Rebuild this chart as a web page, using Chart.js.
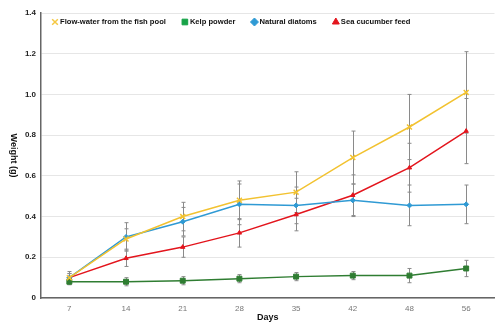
<!DOCTYPE html>
<html>
<head>
<meta charset="utf-8">
<script src="https://cdn.jsdelivr.net/npm/chart.js@4/dist/chart.umd.min.js"></script>
<style>
  html, body { margin: 0; padding: 0; background: #fff; }
  #wrap { width: 500px; height: 328px; }
</style>
</head>
<body>
<div id="wrap"><canvas id="weightChart" width="500" height="328"></canvas></div>
<script>
// ===== Weight growth by feed type =====

const days = ['7', '14', '21', '28', '35', '42', '48', '56'];

const flowWater = [0.10, 0.29, 0.40, 0.48, 0.52, 0.69, 0.84, 1.01];
const kelp      = [0.08, 0.08, 0.085, 0.095, 0.105, 0.11, 0.11, 0.145];
const diatoms   = [0.10, 0.30, 0.375, 0.46, 0.455, 0.48, 0.455, 0.46];
const feed      = [0.10, 0.195, 0.25, 0.32, 0.41, 0.505, 0.64, 0.82];

// standard deviations (half length of each error bar)
const flowWaterSd = [0.02, 0.05, 0.07, 0.095, 0.10, 0.13, 0.16, 0.20];
const kelpSd      = [0.015, 0.02, 0.02, 0.02, 0.02, 0.02, 0.035, 0.04];
const diatomsSd   = [0.03, 0.07, 0.07, 0.10, 0.09, 0.08, 0.10, 0.095];
const feedSd      = [0.02, 0.04, 0.05, 0.07, 0.08, 0.10, 0.12, 0.16];

const FONT = '"Liberation Sans", Arial, sans-serif';

const series = [
  { label: 'Flow-water from the fish pool', data: flowWater, sd: flowWaterSd,
    color: '#f2c230', style: 'crossRot', radius: 3.5, legendColor: '#f5c842' },
  { label: 'Kelp powder', data: kelp, sd: kelpSd,
    color: '#2f7d32', style: 'rect', radius: 3.5, legendColor: '#17a348' },
  { label: 'Natural diatoms', data: diatoms, sd: diatomsSd,
    color: '#2f9ad4', style: 'rectRot', radius: 2.5, legendColor: '#2f9ad4' },
  { label: 'Sea cucumber feed', data: feed, sd: feedSd,
    color: '#e3151d', style: 'triangle', radius: 2.5, legendColor: '#e3151d' }
];

// grey error bars drawn under the lines
const errorBars = {
  id: 'errorBars',
  beforeDatasetsDraw(chart) {
    const { ctx, scales: { y } } = chart;
    ctx.save();
    ctx.strokeStyle = '#8a8a8a';
    ctx.lineWidth = 1;
    series.forEach((s, i) => {
      const meta = chart.getDatasetMeta(i);
      meta.data.forEach((pt, j) => {
        const top = y.getPixelForValue(s.data[j] + s.sd[j]);
        const bot = y.getPixelForValue(s.data[j] - s.sd[j]);
        const x = Math.round(pt.x) + 0.5;
        ctx.beginPath();
        ctx.moveTo(x, top); ctx.lineTo(x, bot);
        ctx.moveTo(x - 2, top); ctx.lineTo(x + 2, top);
        ctx.moveTo(x - 2, bot); ctx.lineTo(x + 2, bot);
        ctx.stroke();
      });
    });
    ctx.restore();
  }
};

// legend row inside the plot, and axis titles
const extras = {
  id: 'extras',
  afterDraw(chart) {
    const { ctx, chartArea } = chart;
    ctx.save();
    ctx.font = 'bold 7.6px ' + FONT;
    ctx.textBaseline = 'middle';
    let lx = chartArea.left + 14;
    const ly = 22;
    series.forEach(s => {
      ctx.fillStyle = s.legendColor;
      ctx.strokeStyle = s.legendColor;
      ctx.lineWidth = s.style === 'crossRot' ? 1.5 : 1;
      Chart.helpers.drawPoint(ctx, {
        pointStyle: s.style, radius: 4, rotation: 0,
        borderWidth: ctx.lineWidth
      }, lx, ly);
      ctx.fillStyle = '#111';
      ctx.fillText(s.label, lx + 5, ly);
      lx += ctx.measureText(s.label).width + 24;
    });

    // x title
    ctx.fillStyle = '#111';
    ctx.font = 'bold 9px ' + FONT;
    ctx.textAlign = 'center';
    ctx.fillText('Days', (chartArea.left + chartArea.right) / 2, 318);

    // y title, reading top to bottom
    ctx.translate(13, (chartArea.top + chartArea.bottom) / 2);
    ctx.rotate(Math.PI / 2);
    ctx.fillText('Weight (g)', 0, 0);
    ctx.restore();
  }
};

new Chart(document.getElementById('weightChart'), {
  type: 'line',
  data: {
    labels: days,
    datasets: series.map(s => ({
      label: s.label,
      data: s.data,
      borderColor: s.color,
      backgroundColor: s.color,
      borderWidth: 1.5,
      pointStyle: s.style,
      pointRadius: s.radius,
      pointBorderWidth: s.style === 'crossRot' ? 1.5 : 1,
      tension: 0,
      fill: false
    }))
  },
  options: {
    responsive: false,
    animation: false,
    devicePixelRatio: 1,
    layout: { padding: { left: 0, right: 1, top: 13, bottom: 0 } },
    plugins: { legend: { display: false }, tooltip: { enabled: false } },
    scales: {
      x: {
        offset: true,
        grid: { display: false, drawTicks: false },
        border: { color: '#666', width: 1.5 },
        ticks: { color: '#777', font: { family: FONT, size: 8 }, padding: 6 },
        afterFit: s => { s.height = 30; }
      },
      y: {
        min: 0, max: 1.4,
        grid: { color: '#e6e6e6', drawTicks: false },
        border: { color: '#666', width: 1.5 },
        ticks: {
          stepSize: 0.2, padding: 5, color: '#222',
          font: { family: FONT, size: 8, weight: 'bold' },
          callback: v => v === 0 ? '0' : v.toFixed(1)
        },
        afterFit: s => { s.width = 41; }
      }
    }
  },
  plugins: [errorBars, extras]
});
</script>
</body>
</html>
